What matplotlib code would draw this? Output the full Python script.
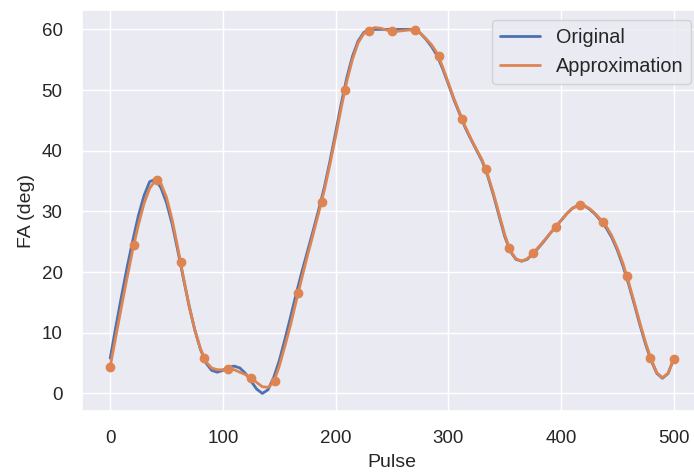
import matplotlib
matplotlib.use("Agg")
import matplotlib.pyplot as plt
import seaborn as sns

sns.set_theme()
plt.rcParams['font.family'] = ['Liberation Sans', 'DejaVu Sans']

# dense readings of the two curves (x every 5 pulses)
pulse = list(range(0, 505, 5))
original = [5.8, 11.0, 16.0, 20.8, 25.2, 29.3, 32.6, 34.9, 35.3, 33.9,
            31.4, 27.9, 23.5, 18.9, 14.4, 10.5, 7.3, 5.0, 3.8, 3.5,
            3.8, 4.3, 4.5, 4.2, 3.3, 2.0, 0.7, 0.0, 0.6, 2.6,
            5.4, 8.9, 12.6, 16.4, 20.0, 23.4, 26.8, 30.3, 34.0, 38.3,
            43.0, 47.8, 52.1, 55.6, 58.1, 59.5, 60.0, 60.0, 60.0, 60.0,
            60.0, 60.0, 60.0, 60.0, 59.9, 59.4, 58.4, 57.2, 55.7, 53.5,
            51.0, 48.4, 46.1, 43.8, 41.9, 40.1, 38.3, 35.8, 32.7, 29.3,
            25.9, 23.4, 22.1, 21.8, 22.1, 23.0, 24.0, 25.1, 26.3, 27.4,
            28.5, 29.6, 30.5, 31.0, 31.0, 30.4, 29.6, 28.5, 27.3, 25.7,
            23.6, 21.0, 18.0, 14.7, 11.3, 8.1, 5.4, 3.3, 2.5, 3.3,
            5.7]
approx = [4.4, 9.4, 14.3, 19.1, 23.7, 27.8, 31.3, 33.8, 35.1, 34.6,
          32.3, 28.6, 24.0, 19.1, 14.5, 10.5, 7.4, 5.2, 4.2, 3.9,
          3.9, 4.0, 3.9, 3.5, 3.1, 2.6, 1.8, 1.1, 1.0, 1.8,
          4.5, 7.8, 11.3, 15.2, 19.0, 22.7, 26.2, 29.8, 33.5, 37.8,
          42.3, 47.1, 51.5, 55.1, 57.8, 59.3, 60.0, 60.3, 60.2, 59.9,
          59.7, 59.7, 59.8, 59.9, 59.9, 59.4, 58.5, 57.5, 56.1, 53.8,
          51.2, 48.6, 46.3, 44.0, 42.0, 40.2, 38.5, 36.0, 33.0, 29.6,
          26.2, 23.5, 22.2, 21.8, 22.2, 23.1, 24.1, 25.2, 26.3, 27.4,
          28.5, 29.6, 30.5, 31.0, 31.0, 30.5, 29.7, 28.7, 27.6, 26.0,
          23.9, 21.4, 18.3, 15.0, 11.6, 8.4, 5.6, 3.4, 2.6, 3.3,
          5.7]

# sample points of the approximation
node_pulse = [0, 20.8, 41.7, 62.5, 83.3, 104.2, 125, 145.8, 166.7, 187.5,
              208.3, 229.2, 250, 270.8, 291.7, 312.5, 333.3, 354.2, 375,
              395.8, 416.7, 437.5, 458.3, 479.2, 500]
node_fa = [4.4, 24.4, 35.2, 21.7, 5.9, 4.0, 2.6, 2.0, 16.5, 31.6,
           50.0, 59.8, 59.7, 59.9, 55.6, 45.2, 37.0, 23.9, 23.1, 27.5,
           31.0, 28.3, 19.3, 5.9, 5.7]

fig = plt.figure(figsize=(6.94, 4.74), dpi=100)
ax = fig.add_axes([0.1182, 0.1329, 0.8932, 0.846])

ax.plot(pulse, original, color="#4c72b0", linewidth=2.0, label="Original")
ax.plot(pulse, approx, color="#dd8452", linewidth=2.0, label="Approximation")
ax.plot(node_pulse, node_fa, "o", color="#dd8452", markersize=6)

ax.set_xlim(-25, 525)
ax.set_ylim(-2.9, 63.2)
ax.set_xticks([0, 100, 200, 300, 400, 500])
ax.set_yticks([0, 10, 20, 30, 40, 50, 60])
ax.tick_params(labelsize=13.5, pad=8)
ax.set_xlabel("Pulse", fontsize=14, labelpad=5)
ax.set_ylabel("FA (deg)", fontsize=14, labelpad=5)
ax.legend(loc="upper right", fontsize=14.3, borderaxespad=0,
          bbox_to_anchor=(0.9827, 0.975))

fig.savefig("out.png", dpi=100)
